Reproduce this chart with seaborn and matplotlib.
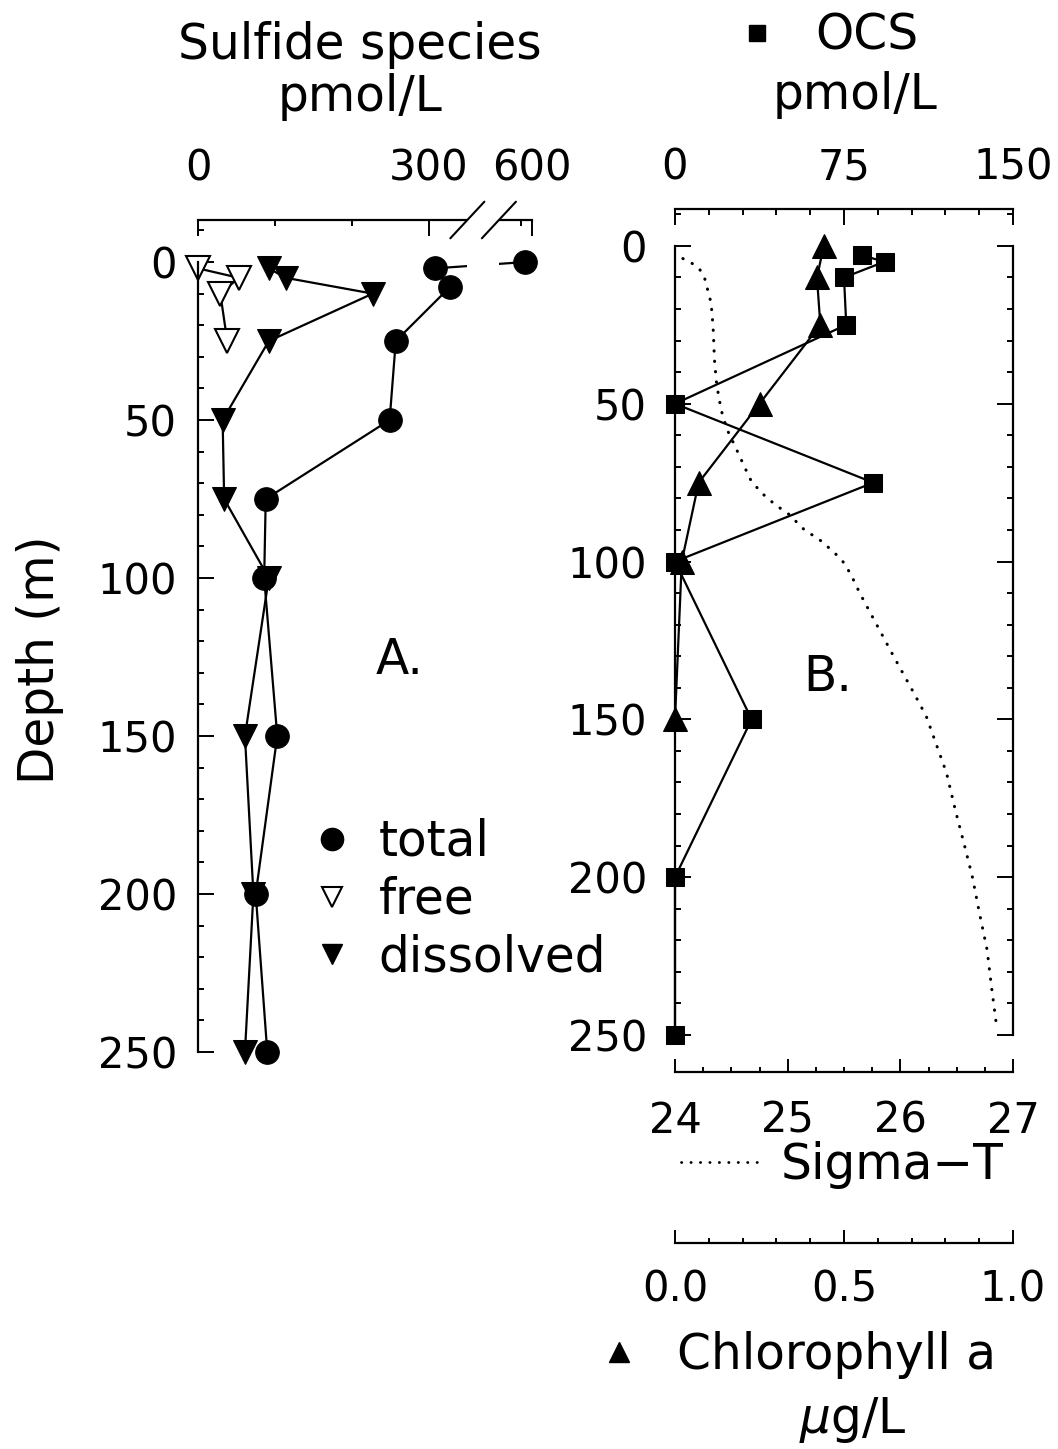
import numpy as np
import matplotlib
matplotlib.use("Agg")
import matplotlib.pyplot as plt
import matplotlib.transforms as mtransforms
from matplotlib.lines import Line2D
from matplotlib.patches import Rectangle
from matplotlib.ticker import FixedLocator, MultipleLocator
import seaborn as sns

# ---------------- data ----------------
# Panel A: sulfide species (pmol/L) versus depth (m)
total_depth = [0, 2, 8, 25, 50, 75, 100, 150, 200, 250]
total_val = [585, 308, 327, 257, 249, 88, 86, 103, 75, 90]

free_depth = [2, 5, 10, 25]
free_val = [0, 53, 29, 38]

dissolved_depth = [2, 5, 10, 25, 50, 75, 100, 150, 200, 250]
dissolved_val = [92, 114, 227, 92, 32, 34, 92, 61, 72, 61]

# Panel B: OCS (pmol/L), chlorophyll a (ug/L) and sigma-T versus depth (m)
ocs_depth = [3, 5, 10, 25, 50, 75, 100, 150, 200, 250]
ocs_val = [83, 93, 75, 76, 0, 88, 0, 34, 0, 0]

chl_depth = [0, 10, 25, 50, 75, 100, 150]
chl_val = [0.44, 0.42, 0.43, 0.25, 0.07, 0.02, 0.0]

sigt_depth = [4, 5.5, 7, 9, 12, 14, 18, 22, 27, 36, 44, 52, 58, 64, 71, 74,
              78, 82, 85, 90, 93, 97, 100, 104, 110, 120, 130, 141, 149, 158,
              167, 179, 190, 200, 211, 223, 235, 246]
sigt_val = [24.07, 24.15, 24.21, 24.25, 24.28, 24.29, 24.32, 24.33, 24.34,
            24.35, 24.37, 24.41, 24.46, 24.54, 24.63, 24.67, 24.76, 24.89,
            25.01, 25.15, 25.28, 25.41, 25.49, 25.56, 25.64, 25.79, 25.94,
            26.11, 26.23, 26.32, 26.41, 26.49, 26.57, 26.64, 26.70, 26.77,
            26.81, 26.85]

depth_ticks = [0, 50, 100, 150, 200, 250]
sulfide_ticks = [0, 300, 600]
sulfide_tick_labels = ["0", "300", "600"]
ocs_ticks = [0, 75, 150]
sigt_ticks = [24, 25, 26, 27]
chl_ticks = [0.0, 0.5, 1.0]
chl_tick_labels = ["0.0", "0.5", "1.0"]

# ---------------- style ----------------
sns.set_style("ticks")
plt.rcParams.update({
    "font.family": ["DejaVu Sans"],
    "axes.edgecolor": "k",
    "axes.linewidth": 1.6,
    "xtick.color": "k",
    "ytick.color": "k",
    "text.color": "k",
    "axes.labelcolor": "k",
})

W, H = 1058, 1449
fig = plt.figure(figsize=(W / 100, H / 100), dpi=100)

TICK_FS = 30
TITLE_FS = 35
MAJ, MIN, TW = 11.5, 4.5, 1.4
LW = 1.6
DOTS = (0, (0.1, 3.3))


def fx(px):
    return px / W


def fy(py):
    return 1 - py / H


# ---------------- panel A ----------------
axA = fig.add_axes([fx(198), fy(1052), (532 - 198) / W, (1052 - 220) / H])


# broken concentration axis: linear to 350, compressed gap, then 525..600
def brk_fwd(v):
    v = np.asarray(v, float)
    return np.where(v <= 350, v,
                    np.where(v <= 525, 350 + (v - 350) * (41 / 175),
                             391 + (v - 525) * (43 / 75)))


def brk_inv(u):
    u = np.asarray(u, float)
    return np.where(u <= 350, u,
                    np.where(u <= 391, 350 + (u - 350) * (175 / 41),
                             525 + (u - 391) * (75 / 43)))


axA.set_xscale("function", functions=(brk_fwd, brk_inv))
axA.set_xlim(0, 600)
axA.set_ylim(250, -13.3)

line_kw = dict(sort=False, estimator=None, color="k", linewidth=LW,
               markeredgecolor="k", clip_on=False)
sns.lineplot(x=total_val, y=total_depth, ax=axA, marker="o", markersize=17,
             **line_kw)
sns.lineplot(x=dissolved_val, y=dissolved_depth, ax=axA, marker="v",
             markersize=17, **line_kw)
sns.lineplot(x=free_val, y=free_depth, ax=axA, marker="v", markersize=17,
             markerfacecolor="white", markeredgewidth=1.5, **line_kw)

axA.set_xlabel("")
axA.set_ylabel("")
for s in ["right", "bottom"]:
    axA.spines[s].set_visible(False)
axA.spines["left"].set_bounds(0, 250)

axA.xaxis.tick_top()
axA.xaxis.set_major_locator(FixedLocator(sulfide_ticks))
axA.xaxis.set_minor_locator(FixedLocator([100, 200, 575]))
axA.set_xticklabels(sulfide_tick_labels)
axA.yaxis.set_major_locator(FixedLocator(depth_ticks))
axA.yaxis.set_minor_locator(MultipleLocator(10))
axA.tick_params(axis="x", which="both", direction="in", top=True,
                bottom=False, width=TW)
axA.tick_params(axis="x", which="major", length=MAJ, pad=22,
                labelsize=TICK_FS)
axA.tick_params(axis="x", which="minor", length=MIN)
axA.tick_params(axis="y", which="both", direction="in", left=True,
                right=False, width=TW)
axA.tick_params(axis="y", which="major", length=MAJ, pad=15,
                labelsize=TICK_FS)
axA.tick_params(axis="y", which="minor", length=MIN)

# axis break: blank band through the plot and the top spine, with slashes
blend = mtransforms.blended_transform_factory(axA.transData, axA.transAxes)
axA.add_patch(Rectangle((350, -0.01), 175, 1.05, transform=blend,
                        facecolor="white", edgecolor="none", zorder=3,
                        clip_on=False))
span = float(brk_fwd(600))
for v in (350, 525):
    xf = float(brk_fwd(v)) / span
    axA.add_line(Line2D([xf - 0.051, xf + 0.051], [1 - 0.022, 1 + 0.022],
                        transform=axA.transAxes, color="k", lw=1.5,
                        zorder=4, clip_on=False))

fig.text(fx(400), fy(660), "A.", ha="center", va="center", fontsize=TITLE_FS)

legA_handles = [
    Line2D([], [], ls="none", marker="o", color="k", markersize=16),
    Line2D([], [], ls="none", marker="v", markerfacecolor="white",
           markeredgecolor="k", markeredgewidth=1.5, markersize=14),
    Line2D([], [], ls="none", marker="v", color="k", markersize=14),
]
axA.legend(legA_handles, ["total", "free", "dissolved"], loc="upper left",
           bbox_to_anchor=(fx(308), fy(818)), bbox_transform=fig.transFigure,
           frameon=False, fontsize=TITLE_FS, handlelength=1.0,
           handletextpad=0.45, borderpad=0, borderaxespad=0,
           labelspacing=0.2)

# ---------------- panel B ----------------
axB = fig.add_axes([fx(675), fy(1035), (1013 - 675) / W, (1035 - 209) / H])
axB.set_xlim(0, 150)
axB.set_ylim(250, -11.7)

axS = axB.twiny()
axC = axB.twiny()
axS.set_xlim(24, 27)
axC.set_xlim(0, 1)

sns.lineplot(x=sigt_val, y=sigt_depth, ax=axS, sort=False, estimator=None,
             color="k", linewidth=2.2, linestyle=DOTS, dash_capstyle="round")
sns.lineplot(x=chl_val, y=chl_depth, ax=axC, marker="^", markersize=17,
             **line_kw)
sns.lineplot(x=ocs_val, y=ocs_depth, ax=axB, marker="s", markersize=13.5,
             **line_kw)

for a in (axB, axS, axC):
    a.set_xlabel("")
    a.set_ylabel("")

axB.spines["bottom"].set_visible(False)
axB.spines["left"].set_bounds(0, 250)
axB.spines["right"].set_bounds(0, 250)
axB.xaxis.tick_top()
axB.xaxis.set_major_locator(FixedLocator(ocs_ticks))
axB.xaxis.set_minor_locator(MultipleLocator(15))
axB.yaxis.set_major_locator(FixedLocator(depth_ticks))
axB.yaxis.set_minor_locator(MultipleLocator(10))
axB.tick_params(axis="x", which="both", direction="in", top=True,
                bottom=False, labeltop=True, labelbottom=False, width=TW)
axB.tick_params(axis="x", which="major", length=MAJ, pad=15,
                labelsize=TICK_FS)
axB.tick_params(axis="x", which="minor", length=MIN)
axB.tick_params(axis="y", which="both", direction="in", left=True,
                right=True, labelright=False, width=TW)
axB.tick_params(axis="y", which="major", length=MAJ, pad=20,
                labelsize=TICK_FS)
axB.tick_params(axis="y", which="minor", length=MIN)

# detached bottom scales for sigma-T and chlorophyll a
for a, off, major, minor, pad in ((axS, 37, sigt_ticks, 0.25, 20),
                                  (axC, 208, chl_ticks, 0.1, 18)):
    for s in ["top", "left", "right"]:
        a.spines[s].set_visible(False)
    a.spines["bottom"].set_visible(True)
    a.spines["bottom"].set_position(("outward", off * 0.72))
    a.xaxis.tick_bottom()
    a.xaxis.set_major_locator(FixedLocator(major))
    a.xaxis.set_minor_locator(MultipleLocator(minor))
    a.tick_params(axis="x", which="both", direction="in", width=TW)
    a.tick_params(axis="x", which="major", length=9.5, pad=pad,
                  labelsize=TICK_FS)
    a.tick_params(axis="x", which="minor", length=3.5)
axC.set_xticklabels(chl_tick_labels)

fig.text(fx(828), fy(677), "B.", ha="center", va="center", fontsize=TITLE_FS)

# ---------------- titles and keys ----------------
fig.text(fx(40), fy(660), "Depth (m)", rotation=90, ha="center", va="center",
         fontsize=TITLE_FS)
fig.text(fx(360), fy(45), "Sulfide species", ha="center", va="center",
         fontsize=TITLE_FS)
fig.text(fx(360), fy(97), "pmol/L", ha="center", va="center",
         fontsize=TITLE_FS)

fig.legend([Line2D([], [], ls="none", marker="s", color="k", markersize=11)],
           ["OCS"], loc="center", bbox_to_anchor=(fx(830), fy(36)),
           frameon=False, fontsize=TITLE_FS, handlelength=0.6,
           handletextpad=0.9, borderpad=0)
fig.text(fx(855), fy(95), "pmol/L", ha="center", va="center",
         fontsize=TITLE_FS)

fig.legend([Line2D([], [], color="k", linewidth=2.0, linestyle=DOTS,
                   dash_capstyle="round")],
           ["Sigma\u2212T"], loc="center", bbox_to_anchor=(fx(842), fy(1165)),
           frameon=False, fontsize=TITLE_FS, handlelength=1.7,
           handletextpad=0.35, borderpad=0)

fig.legend([Line2D([], [], ls="none", marker="^", color="k", markersize=14)],
           ["Chlorophyll a"], loc="center", bbox_to_anchor=(fx(800), fy(1355)),
           frameon=False, fontsize=TITLE_FS, handlelength=0.6,
           handletextpad=0.9, borderpad=0)
fig.text(fx(853), fy(1420), r"$\mu$g/L", ha="center", va="center",
         fontsize=TITLE_FS)

fig.savefig("out.png", dpi=100, facecolor="white")
